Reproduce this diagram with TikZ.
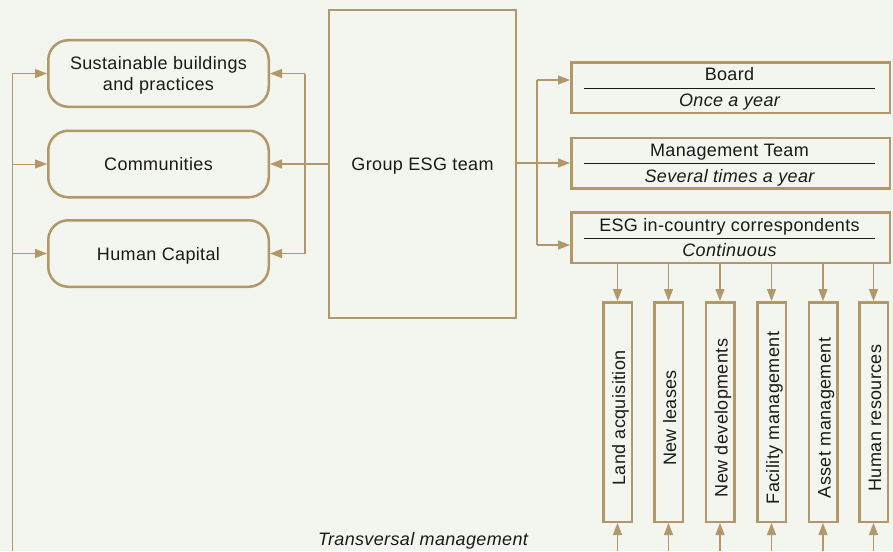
\documentclass[tikz,border=0pt]{standalone}
\usepackage{fontspec}
\setmainfont{Liberation Sans}[LetterSpace=2]
\usetikzlibrary{arrows.meta,calc}
\definecolor{tan}{RGB}{178,152,105}
\definecolor{bg}{RGB}{243,245,239}
\definecolor{ink}{RGB}{26,26,26}
\begin{document}
\begin{tikzpicture}[x=1pt,y=-1pt,
  font=\fontsize{18}{21}\selectfont,
  every node/.style={text=ink},
  conn/.style={draw=tan, line width=1.2pt, -{Triangle[length=12pt,width=9pt]}},
  plainline/.style={draw=tan, line width=1.2pt},
  rbox/.style={draw=tan, line width=2.5pt, rounded corners=20pt, minimum width=220.5pt, minimum height=66.5pt, inner sep=0pt},
  gbox/.style={draw=tan, line width=2pt, minimum width=187pt, minimum height=308pt, inner sep=0pt},
  sbox/.style={draw=tan, line width=2.5pt, minimum width=318.5pt, minimum height=50.5pt, inner sep=0pt},
  vbox/.style={draw=tan, line width=2.5pt, minimum width=28.5pt, minimum height=219.5pt, inner sep=0pt},
  txt/.style={inner sep=0pt, anchor=base},
  vtxt/.style={inner sep=0pt, anchor=base, rotate=90},
  sepline/.style={draw=ink, line width=1pt}
]
\useasboundingbox (0,0) rectangle (893,551);
\fill[bg] (0,0) rectangle (893,551);

% left topic boxes
\node[rbox] (sb) at (158.5,73.5) {};
\node[rbox] (com) at (158.5,164) {};
\node[rbox] (hc) at (158.5,253.5) {};
\node[inner sep=0pt, align=center] (sbt) at (158.5,75.6) {Sustainable buildings\\and practices};
\node[txt] (comt) at (158.5,170.2) {Communities};
\node[txt] (hct) at (158.5,260) {Human Capital};

% group box
\node[gbox] (grp) at (422.5,164) {};
\node[txt] (grpt) at (422.5,170.5) {Group ESG team};

% right boxes
\node[sbox] (board) at (730.5,87.5) {};
\node[txt] (boardt) at (729.5,80.7) {Board};
\node[txt] (boardf) at (729.5,106.7) {\itshape Once a year};
\draw[sepline] ($(board.west)+(14,1)$) -- ($(board.east)+(-16,1)$);

\node[sbox] (mgmt) at (730.5,163) {};
\node[txt] (mgmtt) at (729.5,156.5) {Management Team};
\node[txt] (mgmtf) at (729.5,182) {\itshape Several times a year};
\draw[sepline] ($(mgmt.west)+(14,0)$) -- ($(mgmt.east)+(-16,0)$);

\node[sbox] (corr) at (730.5,237.5) {};
\node[txt] (corrt) at (729.5,231.7) {ESG in-country correspondents};
\node[txt] (corrf) at (729.5,256.7) {\itshape Continuous};
\draw[sepline] ($(corr.west)+(14,0.5)$) -- ($(corr.east)+(-16,0.5)$);

% vertical department boxes
\foreach \i/\x/\t in {1/617.5/Land acquisition, 2/668.5/New leases, 3/720/New developments, 4/771.5/Facility management, 5/823/Asset management, 6/873.5/Human resources}{
  \node[vbox] (v\i) at (\x,412) {};
  \node[vtxt] (vt\i) at (\x+7.7,418) {\t};
  \draw[conn] (corr.south -| v\i.north) -- (v\i.north);
  \coordinate (b\i) at (\x,551);
  \draw[conn] (b\i) -- (v\i.south);
}

% left transversal line
\coordinate (lb) at (12,551);
\draw[conn, line width=1pt] (lb) |- (sb.west);
\draw[conn, line width=1pt] (lb |- com.west) -- (com.west);
\draw[conn, line width=1pt] (lb |- hc.west) -- (hc.west);

% left junction from group
\coordinate (lj) at (305,164);
\draw[plainline] (grp.west) -- (lj);
\draw[plainline] (lj |- sb.east) -- (lj |- hc.east);
\draw[conn] (lj |- sb.east) -- (sb.east);
\draw[conn] (lj) -- (com.east);
\draw[conn] (lj |- hc.east) -- (hc.east);

% right junction from group
\coordinate (rt) at (537,80);
\coordinate (rb) at (537,245);
\draw[plainline] (rt) -- (rb);
\draw[conn] (rt) -- (rt -| board.west);
\draw[conn] (grp.east |- mgmt.west) -- (mgmt.west);
\draw[conn] (rb) -- (rb -| corr.west);

\node[txt] (trans) at (423,545.5) {\itshape Transversal management};
\end{tikzpicture}
\end{document}
